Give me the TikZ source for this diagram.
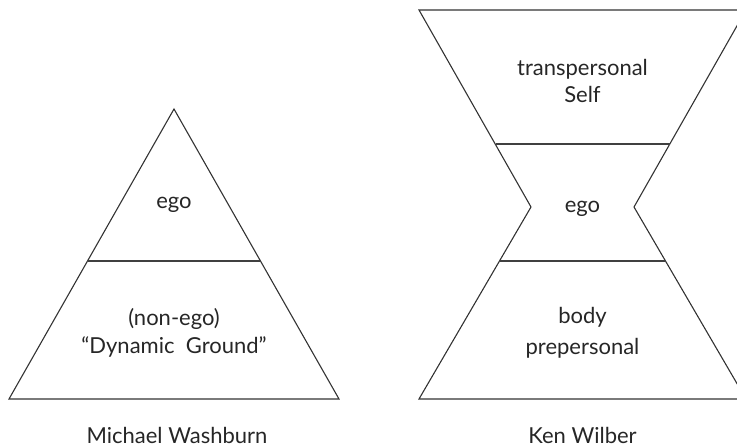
\documentclass[tikz,border=0pt]{standalone}
\usepackage{fontspec}
\setmainfont{Lato}
\begin{document}
\begin{tikzpicture}[x=1pt,y=-1pt,
  outline/.style={draw=black!80,line width=1.1pt,line join=miter},
  divider/.style={draw=black!75,line width=1.3pt},
  lbl/.style={anchor=base,inner sep=0pt,text=black!85,font=\fontsize{22}{25}\selectfont}]
\useasboundingbox (0,0) rectangle (737,447);
\begin{scope}
\clip (0,0) rectangle (737,447);
% Washburn: single pyramid
\coordinate (wapex) at (174,109);
\coordinate (wbl) at (9,399);
\coordinate (wbr) at (339,399);
\coordinate (wdl) at (87.5,261);
\coordinate (wdr) at (260.5,261);
\draw[outline] (wapex) -- (wbr) -- (wbl) -- cycle;
\draw[divider] (wdl) -- (wdr);
% Wilber: hourglass with a narrowed waist
\coordinate (ktl) at (419,10);
\coordinate (ktr) at (746,10);
\coordinate (knr) at (634,207);
\coordinate (kbr) at (746,399);
\coordinate (kbl) at (419,399);
\coordinate (knl) at (531,207);
\coordinate (kul) at (495.5,144);
\coordinate (kur) at (669.5,144);
\coordinate (kll) at (499.5,261);
\coordinate (klr) at (665.5,261);
\draw[outline] (ktl) -- (ktr) -- (knr) -- (kbr) -- (kbl) -- (knl) -- cycle;
\draw[divider] (kul) -- (kur);
\draw[divider] (kll) -- (klr);
\end{scope}
% labels
\node[lbl] (wego) at (174,208) {ego};
\node[lbl] (wnon) at (174,325) {(non-ego)};
\node[lbl] (wdyn) at (174,353) {``Dynamic~~Ground''};
\node[lbl] (wname) at (177,443) {Michael Washburn};
\node[lbl] (ktrans) at (582.5,75) {transpersonal};
\node[lbl] (kself) at (582.5,102) {Self};
\node[lbl] (kego) at (582.5,212) {ego};
\node[lbl] (kbody) at (582.5,323) {body};
\node[lbl] (kpre) at (582.5,354) {prepersonal};
\node[lbl] (kname) at (582.5,443) {Ken Wilber};
\end{tikzpicture}
\end{document}
